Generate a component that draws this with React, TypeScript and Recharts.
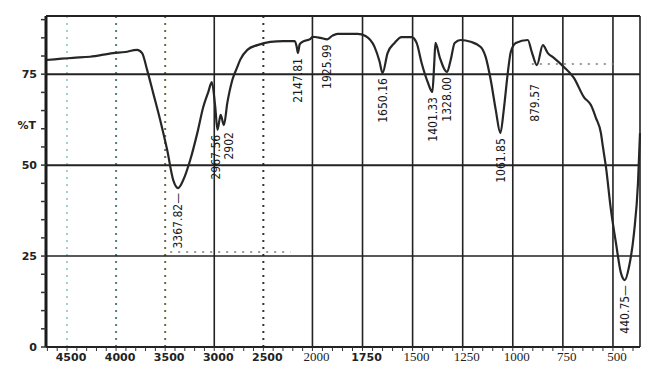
import React from 'react';
import { LineChart, Line, XAxis, YAxis, ReferenceLine, ReferenceDot } from 'recharts';

// IR spectrum, wavenumber (cm-1) vs %T
const wavenumbers = [
  4714, 4439, 4265, 4031, 3908, 3786, 3735, 3684, 3622, 3551, 3480, 3418, 3367.82, 3316,
  3245, 3173, 3112, 3061, 3025, 2990, 2967.56, 2935, 2902, 2867, 2816, 2765, 2735, 2663,
  2561, 2429, 2296, 2180, 2160, 2147.81, 2130, 2102, 2020, 2000, 1960, 1925.99, 1900, 1875,
  1775, 1735, 1690, 1665, 1650.16, 1625, 1590, 1555, 1505, 1480, 1455, 1425, 1401.33, 1392,
  1386, 1365, 1328.0, 1310, 1290, 1260, 1210, 1160, 1135, 1110, 1085, 1061.85, 1045, 1025,
  1010, 985, 925, 905, 879.57, 850, 825, 795, 745, 695, 645, 610, 585, 560, 550, 535, 510,
  485, 460, 440.75, 420, 395, 375, 365,
];
const transmittance = [
  78.9, 79.5, 79.8, 80.8, 81.1, 81.7, 80.8, 76.2, 69.8, 62.4, 54.2, 45.9, 43.7, 45.9,
  51.4, 58.8, 66.0, 70.1, 72.8, 66.0, 59.7, 63.8, 61.0, 67.1, 73.4, 77.0, 79.0, 81.7,
  83.0, 83.9, 84.1, 84.1, 82.5, 80.8, 83.2, 83.9, 84.7, 85.3, 85.0, 84.6, 85.6, 86.1,
  86.1, 85.5, 82.5, 78.5, 75.3, 80.8, 83.6, 85.2, 85.2, 83.6, 78.1, 72.9, 70.1, 78.0,
  83.6, 79.7, 75.6, 78.9, 83.6, 84.4, 83.9, 82.5, 79.7, 73.4, 65.2, 58.8, 65.2, 75.3,
  81.1, 83.6, 84.4, 81.1, 77.5, 83.0, 80.8, 79.5, 77.0, 74.0, 68.7, 66.5, 63.0, 58.8, 55.0, 49.5, 37.7,
  28.6, 20.3, 18.4, 22.0, 31.3, 45.1, 58.8,
];

const peakWavenumbers = [3367.82, 2967.56, 2902, 2147.81, 1925.99, 1650.16, 1401.33, 1328.0, 1061.85, 879.57, 440.75];
const peakTexts = ['3367.82\u2014', '2967.56', '2902', '2147.81', '1925.99', '1650.16', '1401.33', '1328.00', '1061.85', '879.57', '440.75\u2014'];

const majorTicks = [4500, 4000, 3500, 3000, 2500, 2000, 1750, 1500, 1250, 1000, 750, 500];
const boldTicks = [4500, 4000, 3500, 3000, 2500, 1750];
const solidLines = [3000, 2000, 1750, 1500, 1250, 1000, 750, 500];
const dottedLines = [
  { w: 4500, color: '#9fd0d0' },
  { w: 4000, color: '#4f7f7f' },
  { w: 3500, color: '#6b6b45' },
  { w: 2500, color: '#333333' },
];
const yLabels = [0, 25, 50, 75];

// the spectrometer chart is compressed 2x above 2000 cm-1
const toP = (w: number) => (w > 2000 ? 2000 + (w - 2000) * 0.49 : w);
const fromP = (p: number) => (p > 2000 ? 2000 + (p - 2000) / 0.49 : p);

const data = wavenumbers.map((w, i) => ({ p: toP(w), t: transmittance[i] }));

const minorTicks: number[] = [];
for (let w = 4700; w > 2000; w -= 100) minorTicks.push(w);
for (let w = 2000; w >= 400; w -= 50) minorTicks.push(w);
const xTicks = Array.from(new Set([...minorTicks, ...majorTicks])).map(toP);

const yTicks: number[] = [];
for (let v = 0; v <= 90; v += 5) yTicks.push(v);

const labelFont = "'DejaVu Sans Condensed', 'Liberation Sans Narrow', 'DejaVu Sans', sans-serif";

// a few labels sit a little off their dip in the original printout
const labelNudge: Record<string, [number, number]> = {
  '2967.56': [-2, 0],
  '2902': [5, 2],
  '879.57': [-2, 14],
};

const XTick = (props: any) => {
  const { x, y, payload } = props;
  const w = Math.round(fromP(payload.value));
  if (!majorTicks.includes(w)) return null;
  const bold = boldTicks.includes(w);
  return (
    <text
      x={x + 4}
      y={y + 8}
      textAnchor="middle"
      fontFamily={bold ? "'DejaVu Sans', sans-serif" : "'Liberation Serif', serif"}
      fontWeight={bold ? 'bold' : 'normal'}
      fontSize={bold ? 11 : 13}
      fill="#222"
    >
      {w}
    </text>
  );
};

const YTick = (props: any) => {
  const { x, y, payload } = props;
  if (!yLabels.includes(payload.value)) return null;
  return (
    <text x={x} y={y} dy={4} textAnchor="end" fontFamily="'DejaVu Sans', sans-serif" fontWeight="bold" fontSize={11} fill="#222">
      {payload.value}
    </text>
  );
};

const peakLabel = (text: string) => (props: any) => {
  const { viewBox } = props;
  const [nx, ny] = labelNudge[text] || [0, 0];
  const cx = viewBox.x + (viewBox.width || 0) / 2 + nx;
  const cy = viewBox.y + (viewBox.height || 0) / 2 + 5 + ny;
  return (
    <text
      x={cx}
      y={cy}
      dy="0.35em"
      transform={`rotate(-90 ${cx} ${cy})`}
      textAnchor="end"
      fontFamily={labelFont}
      fontSize={12}
      fill="#1a1a1a"
    >
      {text}
    </text>
  );
};

export default function App() {
  return (
    <div style={{ position: 'absolute', left: 0, top: 0, background: '#fff' }}>
      <LineChart width={649} height={367} data={data} margin={{ top: 16, right: 9, left: 0, bottom: 0 }}>
        <XAxis
          dataKey="p"
          type="number"
          domain={[toP(365), toP(4714)]}
          reversed
          ticks={xTicks}
          interval={0}
          tick={<XTick />}
          tickSize={4}
          height={20}
          axisLine={{ stroke: '#222', strokeWidth: 2 }}
          tickLine={{ stroke: '#333', strokeWidth: 1 }}
        />
        <YAxis
          type="number"
          domain={[0, 91]}
          ticks={yTicks}
          interval={0}
          tick={<YTick />}
          tickSize={5}
          tickMargin={4}
          width={46}
          axisLine={{ stroke: '#1a1a1a', strokeWidth: 3 }}
          tickLine={{ stroke: '#333', strokeWidth: 1.5 }}
          label={{
            value: '%T',
            content: () => (
              <text x={36} y={129} textAnchor="end" fontFamily="'DejaVu Sans', sans-serif" fontWeight="bold" fontSize={11} fill="#222">
                %T
              </text>
            ),
          }}
        />
        {dottedLines.map((d) => (
          <ReferenceLine key={d.w} x={toP(d.w)} stroke={d.color} strokeWidth={2} strokeDasharray="2 5" />
        ))}
        {solidLines.map((w) => (
          <ReferenceLine key={w} x={toP(w)} stroke="#222" strokeWidth={1.6} />
        ))}
        {[75, 50, 25].map((v) => (
          <ReferenceLine key={v} y={v} stroke="#222" strokeWidth={v === 25 ? 1.4 : 2} />
        ))}
        <ReferenceLine y={91} stroke="#222" strokeWidth={2} />
        <ReferenceLine x={toP(365)} stroke="#222" strokeWidth={1.6} />
        <ReferenceLine
          segment={[{ x: toP(905), y: 77.8 }, { x: toP(480), y: 77.8 }]}
          stroke="#777"
          strokeWidth={1.5}
          strokeDasharray="2 6"
        />
        <ReferenceLine
          segment={[{ x: toP(3449), y: 26.1 }, { x: toP(2224), y: 26.1 }]}
          stroke="#777"
          strokeWidth={1.5}
          strokeDasharray="2 6"
        />
        <Line
          type="monotone"
          dataKey="t"
          stroke="#262626"
          strokeWidth={2.2}
          dot={false}
          isAnimationActive={false}
        />
        {peakWavenumbers.map((w, i) => (
          <ReferenceDot
            key={w}
            x={toP(w)}
            y={transmittance[wavenumbers.indexOf(w)]}
            r={0}
            fill="none"
            stroke="none"
            label={{ content: peakLabel(peakTexts[i]) }}
          />
        ))}
      </LineChart>
    </div>
  );
}
